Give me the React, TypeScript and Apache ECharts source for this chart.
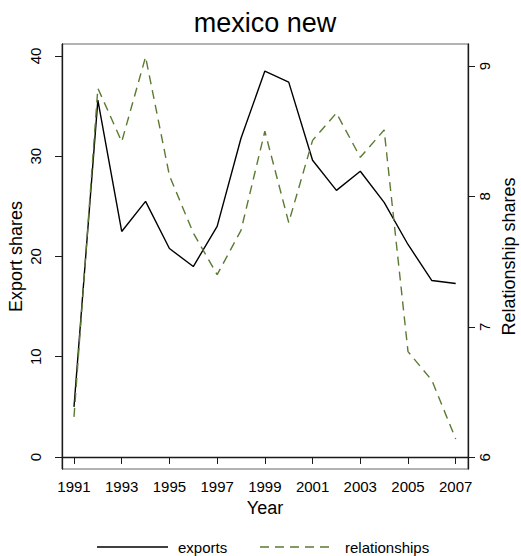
import { useEffect, useRef } from 'react';
import * as echarts from 'echarts';

// Values
const years = [1991, 1992, 1993, 1994, 1995, 1996, 1997, 1998, 1999, 2000, 2001, 2002, 2003, 2004, 2005, 2006, 2007];
const exportShares = [5.0, 35.6, 22.5, 25.5, 20.8, 19.0, 23.0, 31.8, 38.5, 37.4, 29.6, 26.6, 28.5, 25.4, 21.2, 17.6, 17.3];
const relationshipShares = [6.31, 8.83, 8.42, 9.07, 8.16, 7.72, 7.4, 7.74, 8.5, 7.8, 8.43, 8.64, 8.3, 8.51, 6.81, 6.59, 6.14];

const yearTicks = [1991, 1993, 1995, 1997, 1999, 2001, 2003, 2005, 2007];
const exportTicks = [0, 10, 20, 30, 40];
const relationshipTicks = [6, 7, 8, 9];

const FONT = "'Liberation Sans', Arial, Helvetica, sans-serif";
const GREEN = '#5b7a33';
const AXIS = '#1a1a1a';
const DASH = [9, 6];

export default function App() {
  const chartRef = useRef<HTMLDivElement>(null);

  useEffect(() => {
    document.body.style.margin = '0';
    if (!chartRef.current) return;

    const chart = echarts.init(chartRef.current, undefined, { renderer: 'svg' });

    const legendY = 547;

    const option: echarts.EChartsOption = {
      animation: false,
      backgroundColor: '#ffffff',
      textStyle: { fontFamily: FONT },
      grid: {
        left: 62,
        top: 44,
        width: 406,
        height: 425,
        outerBoundsMode: 'none',
        containLabel: false,
        show: true,
        borderColor: '#666',
        borderWidth: 1,
      } as any,
      graphic: [
        {
          type: 'text',
          x: 265,
          y: 23,
          style: {
            text: 'mexico new',
            fontFamily: FONT,
            fontSize: 27,
            fill: '#000',
            textAlign: 'center',
            textVerticalAlign: 'middle',
          },
        },
        // legend, drawn by hand (Stata-style keys)
        {
          type: 'line',
          shape: { x1: 97, y1: legendY, x2: 168, y2: legendY },
          style: { stroke: '#000', lineWidth: 1.4 },
        },
        {
          type: 'text',
          x: 178,
          y: legendY,
          style: { text: 'exports', fontFamily: FONT, fontSize: 15, fill: '#000', textVerticalAlign: 'middle' },
        },
        {
          type: 'line',
          shape: { x1: 260, y1: legendY, x2: 333, y2: legendY },
          style: { stroke: GREEN, lineWidth: 1.4, lineDash: DASH },
        },
        {
          type: 'text',
          x: 345,
          y: legendY,
          style: { text: 'relationships', fontFamily: FONT, fontSize: 15, fill: '#000', textVerticalAlign: 'middle' },
        },
      ],
      xAxis: {
        type: 'value',
        min: 1990.497,
        max: 2007.515,
        name: 'Year',
        nameLocation: 'middle',
        nameGap: 23,
        nameTextStyle: { fontFamily: FONT, fontSize: 18, color: '#000' },
        axisLine: { show: true, lineStyle: { color: AXIS, width: 1.3 } },
        axisTick: { show: true, length: 7, customValues: yearTicks, lineStyle: { color: AXIS } },
        axisLabel: {
          customValues: yearTicks,
          formatter: (v: number) => String(v),
          fontFamily: FONT,
          fontSize: 15,
          color: '#000',
          margin: 10,
        },
        splitLine: { show: false },
      },
      yAxis: [
        {
          type: 'value',
          position: 'left',
          min: -1.2,
          max: 41.2,
          name: 'Export shares',
          nameLocation: 'middle',
          nameGap: 37,
          nameMoveOverlap: false,
          nameTextStyle: { fontFamily: FONT, fontSize: 18, color: '#000' },
          axisLine: { show: true, lineStyle: { color: AXIS, width: 1.3 } },
          axisTick: { show: true, length: 7, customValues: exportTicks, lineStyle: { color: AXIS } },
          axisLabel: {
            customValues: exportTicks,
            formatter: (v: number) => String(v),
            rotate: 90,
            fontFamily: FONT,
            fontSize: 15,
            color: '#000',
            margin: 19,
          },
          splitLine: { show: false },
        } as any,
        {
          type: 'value',
          position: 'right',
          min: 5.91,
          max: 9.169,
          name: 'Relationship shares',
          nameLocation: 'middle',
          nameGap: 30,
          nameTextStyle: { fontFamily: FONT, fontSize: 18, color: '#000' },
          axisLine: { show: true, lineStyle: { color: AXIS, width: 1.3 } },
          axisTick: { show: true, length: 7, customValues: relationshipTicks, lineStyle: { color: AXIS } },
          axisLabel: {
            customValues: relationshipTicks,
            formatter: (v: number) => String(v),
            rotate: 90,
            fontFamily: FONT,
            fontSize: 15,
            color: '#000',
            margin: 9,
          },
          splitLine: { show: false },
        },
      ],
      series: [
        {
          name: 'exports',
          type: 'line',
          yAxisIndex: 0,
          symbol: 'none',
          color: '#000',
          lineStyle: { color: '#000', width: 1.4 },
          data: years.map((y, i) => [y, exportShares[i]]),
        },
        {
          name: 'relationships',
          type: 'line',
          yAxisIndex: 1,
          symbol: 'none',
          color: GREEN,
          lineStyle: { color: GREEN, width: 1.4, type: DASH },
          data: years.map((y, i) => [y, relationshipShares[i]]),
        },
      ],
    };

    chart.setOption(option);

    return () => {
      chart.dispose();
    };
  }, []);

  return <div ref={chartRef} style={{ width: 521, height: 556 }} />;
}
